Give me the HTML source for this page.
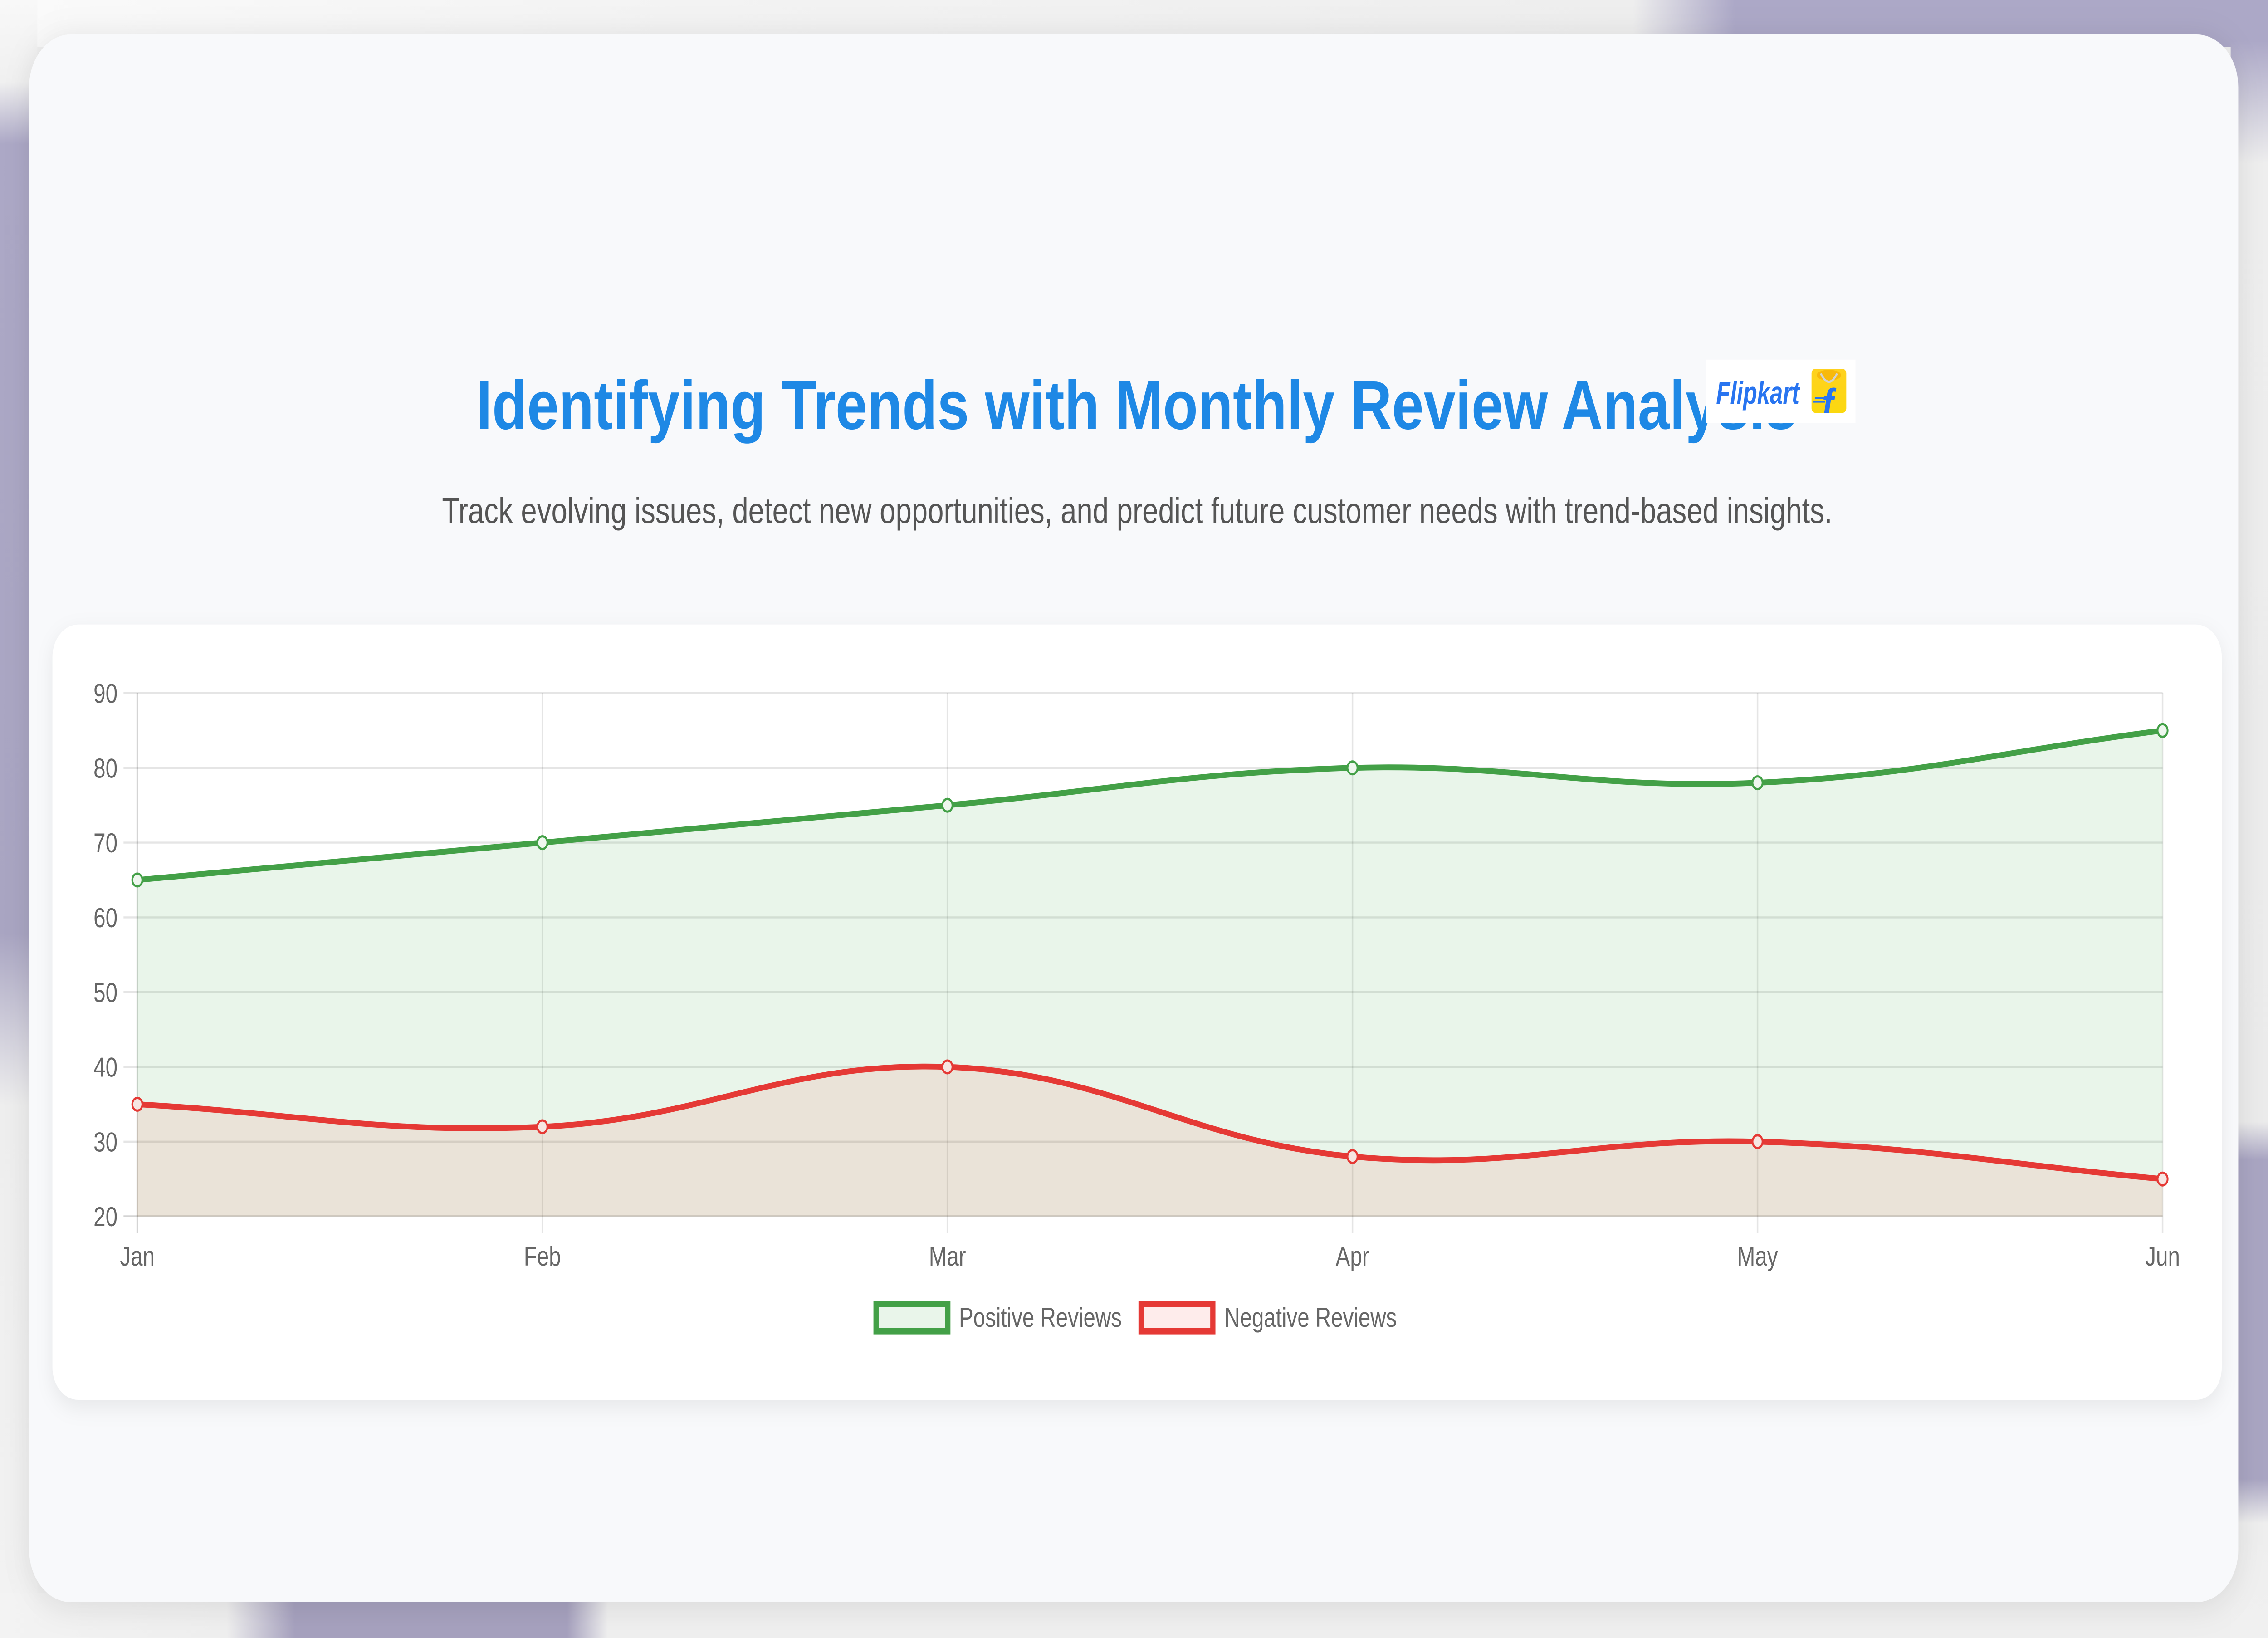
<!DOCTYPE html>
<html>
<head>
<meta charset="utf-8">
<style>
html,body{margin:0;padding:0;width:100%;height:100%;overflow:hidden;background:#f1f1f1;}
svg{display:block;position:absolute;left:0;top:0;width:100vw;height:100vh;}
</style>
</head>
<body>
<svg viewBox="0 0 1579 902.75" preserveAspectRatio="none" xmlns="http://www.w3.org/2000/svg">
  <defs>
    <filter id="cardShadow" x="-10%" y="-10%" width="120%" height="120%">
      <feDropShadow dx="0" dy="2" stdDeviation="9" flood-color="#000" flood-opacity="0.10"/>
    </filter>
    <filter id="chartShadow" x="-10%" y="-10%" width="120%" height="130%">
      <feDropShadow dx="0" dy="4" stdDeviation="6" flood-color="#000" flood-opacity="0.07"/>
    </filter>
    <linearGradient id="bagGrad" x1="0" y1="0" x2="0" y2="1">
      <stop offset="0" stop-color="#ffd21f"/>
      <stop offset="1" stop-color="#fbd80f"/>
    </linearGradient>
    <linearGradient id="gTop" gradientUnits="userSpaceOnUse" x1="0" y1="0" x2="1579" y2="0">
      <stop offset="0" stop-color="#fafafa"/>
      <stop offset="0.3" stop-color="#f3f3f3"/>
      <stop offset="0.72" stop-color="#eeeeee"/>
      <stop offset="0.765" stop-color="#aca8c7"/>
      <stop offset="1" stop-color="#aca8c7"/>
    </linearGradient>
    <linearGradient id="gLeft" gradientUnits="userSpaceOnUse" x1="0" y1="0" x2="0" y2="902.75">
      <stop offset="0" stop-color="#f8f8f8"/>
      <stop offset="0.05" stop-color="#f0f0f0"/>
      <stop offset="0.088" stop-color="#aca8c6"/>
      <stop offset="0.57" stop-color="#a9a5c2"/>
      <stop offset="0.675" stop-color="#eeeeee"/>
      <stop offset="1" stop-color="#f2f2f2"/>
    </linearGradient>
    <linearGradient id="gRight" gradientUnits="userSpaceOnUse" x1="0" y1="0" x2="0" y2="902.75">
      <stop offset="0" stop-color="#aca8c7"/>
      <stop offset="0.025" stop-color="#aca8c7"/>
      <stop offset="0.1" stop-color="#eeeeee"/>
      <stop offset="0.685" stop-color="#ebebeb"/>
      <stop offset="0.708" stop-color="#a9a5c2"/>
      <stop offset="0.903" stop-color="#a9a5c2"/>
      <stop offset="0.93" stop-color="#eeeeee"/>
      <stop offset="1" stop-color="#f0f0f0"/>
    </linearGradient>
    <linearGradient id="gBottom" gradientUnits="userSpaceOnUse" x1="0" y1="0" x2="1579" y2="0">
      <stop offset="0" stop-color="#f3f3f3"/>
      <stop offset="0.1" stop-color="#efefef"/>
      <stop offset="0.13" stop-color="#a6a1be"/>
      <stop offset="0.25" stop-color="#a6a1be"/>
      <stop offset="0.268" stop-color="#efefef"/>
      <stop offset="1" stop-color="#efefef"/>
    </linearGradient>
    <clipPath id="bagClip"><rect x="1261.2" y="203.3" width="24.2" height="24.2" rx="2.5"/></clipPath>
  </defs>

  <!-- background -->
  <rect x="0" y="0" width="1579" height="902.75" fill="#efefef"/>
  <rect x="0" y="0" width="1579" height="26" fill="url(#gTop)"/>
  <rect x="0" y="0" width="26" height="902.75" fill="url(#gLeft)"/>
  <rect x="1553" y="0" width="26" height="902.75" fill="url(#gRight)"/>
  <rect x="0" y="878" width="1553" height="24.75" fill="url(#gBottom)"/>

  <!-- main card -->
  <rect x="20.3" y="19" width="1538" height="864" rx="29" fill="#f8f9fb" filter="url(#cardShadow)"/>

  <!-- title -->
  <text x="791.3" y="236.4" text-anchor="middle" font-family="'Liberation Sans', Arial, sans-serif" font-weight="bold" font-size="38" fill="#1e88e5" textLength="919.5" lengthAdjust="spacingAndGlyphs">Identifying Trends with Monthly Review Analysis</text>

  <!-- flipkart badge -->
  <rect x="1188" y="198.2" width="103.8" height="34.8" fill="#ffffff"/>
  <text x="1194.8" y="222.5" font-family="'Liberation Sans', Arial, sans-serif" font-weight="bold" font-style="italic" font-size="17.5" fill="#2874f0" textLength="58" lengthAdjust="spacingAndGlyphs">Flipkart</text>
  <rect x="1261.2" y="203.3" width="24.2" height="24.2" rx="2.5" fill="url(#bagGrad)"/>
  <ellipse cx="1273.3" cy="206.8" rx="8.5" ry="3" fill="#f2a400" opacity="0.55"/>
  <path d="M1267.6,205.8 Q1273.3,215 1279,205.8" stroke="#d2d2d2" stroke-width="1.3" fill="none"/>
  <g clip-path="url(#bagClip)">
    <text x="1268.5" y="231" font-family="'Liberation Sans', Arial, sans-serif" font-weight="bold" font-style="italic" font-size="24" fill="#2874f0">f</text>
    <line x1="1263.5" y1="219.5" x2="1271" y2="219.5" stroke="#2874f0" stroke-width="1"/>
    <line x1="1262.5" y1="221.5" x2="1270.5" y2="221.5" stroke="#2874f0" stroke-width="0.8"/>
  </g>

  <!-- subtitle -->
  <text x="791.7" y="288.3" text-anchor="middle" font-family="'Liberation Sans', Arial, sans-serif" font-size="20" fill="#555555" textLength="968" lengthAdjust="spacingAndGlyphs">Track evolving issues, detect new opportunities, and predict future customer needs with trend-based insights.</text>

  <!-- chart card -->
  <rect x="36.5" y="344.2" width="1510.3" height="427.3" rx="18" fill="#ffffff" filter="url(#chartShadow)"/>

  <!-- grid lines horizontal -->
  <g stroke="rgba(0,0,0,0.1)" stroke-width="1.1">
    <line x1="86" y1="382" x2="1505.6" y2="382"/>
    <line x1="86" y1="423.2" x2="1505.6" y2="423.2"/>
    <line x1="86" y1="464.4" x2="1505.6" y2="464.4"/>
    <line x1="86" y1="505.6" x2="1505.6" y2="505.6"/>
    <line x1="86" y1="546.8" x2="1505.6" y2="546.8"/>
    <line x1="86" y1="588" x2="1505.6" y2="588"/>
    <line x1="86" y1="629.2" x2="1505.6" y2="629.2"/>
  </g>
  <!-- grid lines vertical -->
  <g stroke="rgba(0,0,0,0.1)" stroke-width="1.1">
    <line x1="377.6" y1="382" x2="377.6" y2="679.6"/>
    <line x1="659.6" y1="382" x2="659.6" y2="679.6"/>
    <line x1="941.6" y1="382" x2="941.6" y2="679.6"/>
    <line x1="1223.6" y1="382" x2="1223.6" y2="679.6"/>
    <line x1="1505.6" y1="382" x2="1505.6" y2="679.6"/>
  </g>
  <g stroke="rgba(0,0,0,0.17)" stroke-width="1.2">
    <line x1="95.6" y1="382" x2="95.6" y2="679.6"/>
    <line x1="86" y1="670.4" x2="1505.6" y2="670.4"/>
  </g>

  <!-- fills -->
  <path d="M95.6,485 C208.4,476.76 264.8,472.64 377.6,464.4 C490.4,456.16 546.8,452.04 659.6,443.8 C772.4,435.56 828.68,425.68 941.6,423.2 C1054.28,420.72 1111.07,435.51 1223.6,431.4 C1336.67,427.27 1392.8,414.12 1505.6,402.6 L1505.6,670.4 L95.6,670.4 Z" fill="rgba(76,175,80,0.12)"/>
  <path d="M95.6,608.6 C208.4,613.56 265.13,625.11 377.6,621 C490.73,616.87 547.27,584.73 659.6,588 C772.87,591.29 827.97,629.1 941.6,637.4 C1053.57,645.58 1110.93,626.72 1223.6,629.2 C1336.52,631.68 1392.8,641.56 1505.6,649.8 L1505.6,670.4 L95.6,670.4 Z" fill="rgba(244,67,54,0.1)"/>

  <!-- lines -->
  <path d="M95.6,485 C208.4,476.76 264.8,472.64 377.6,464.4 C490.4,456.16 546.8,452.04 659.6,443.8 C772.4,435.56 828.68,425.68 941.6,423.2 C1054.28,420.72 1111.07,435.51 1223.6,431.4 C1336.67,427.27 1392.8,414.12 1505.6,402.6" fill="none" stroke="#43a047" stroke-width="3.2" stroke-linejoin="round"/>
  <path d="M95.6,608.6 C208.4,613.56 265.13,625.11 377.6,621 C490.73,616.87 547.27,584.73 659.6,588 C772.87,591.29 827.97,629.1 941.6,637.4 C1053.57,645.58 1110.93,626.72 1223.6,629.2 C1336.52,631.68 1392.8,641.56 1505.6,649.8" fill="none" stroke="#e53935" stroke-width="3.2" stroke-linejoin="round"/>

  <!-- points -->
  <g fill="#eef7ee" stroke="#43a047" stroke-width="1.25">
    <circle cx="95.6" cy="485" r="3.5"/>
    <circle cx="377.6" cy="464.4" r="3.5"/>
    <circle cx="659.6" cy="443.8" r="3.5"/>
    <circle cx="941.6" cy="423.2" r="3.5"/>
    <circle cx="1223.6" cy="431.4" r="3.5"/>
    <circle cx="1505.6" cy="402.6" r="3.5"/>
  </g>
  <g fill="#f6e6e2" stroke="#e53935" stroke-width="1.25">
    <circle cx="95.6" cy="608.6" r="3.5"/>
    <circle cx="377.6" cy="621" r="3.5"/>
    <circle cx="659.6" cy="588" r="3.5"/>
    <circle cx="941.6" cy="637.4" r="3.5"/>
    <circle cx="1223.6" cy="629.2" r="3.5"/>
    <circle cx="1505.6" cy="649.8" r="3.5"/>
  </g>

  <!-- y axis labels -->
  <g font-family="'Liberation Sans', Arial, sans-serif" font-size="15" fill="#666666" text-anchor="end">
    <text x="81.8" y="387.4">90</text>
    <text x="81.8" y="428.6">80</text>
    <text x="81.8" y="469.8">70</text>
    <text x="81.8" y="511">60</text>
    <text x="81.8" y="552.2">50</text>
    <text x="81.8" y="593.4">40</text>
    <text x="81.8" y="634.6">30</text>
    <text x="81.8" y="675.8">20</text>
  </g>
  <!-- x axis labels -->
  <g font-family="'Liberation Sans', Arial, sans-serif" font-size="15" fill="#666666" text-anchor="middle">
    <text x="95.6" y="697.5">Jan</text>
    <text x="377.6" y="697.5">Feb</text>
    <text x="659.6" y="697.5">Mar</text>
    <text x="941.6" y="697.5">Apr</text>
    <text x="1223.6" y="697.5">May</text>
    <text x="1505.6" y="697.5">Jun</text>
  </g>

  <!-- legend -->
  <rect x="609.9" y="718.6" width="50" height="15" fill="rgba(76,175,80,0.12)" stroke="#43a047" stroke-width="3.6"/>
  <text x="667.6" y="731.3" font-family="'Liberation Sans', Arial, sans-serif" font-size="15" fill="#666666">Positive Reviews</text>
  <rect x="794.4" y="718.6" width="50" height="15" fill="rgba(244,67,54,0.1)" stroke="#e53935" stroke-width="3.6"/>
  <text x="852.4" y="731.3" font-family="'Liberation Sans', Arial, sans-serif" font-size="15" fill="#666666">Negative Reviews</text>
</svg>
</body>
</html>
